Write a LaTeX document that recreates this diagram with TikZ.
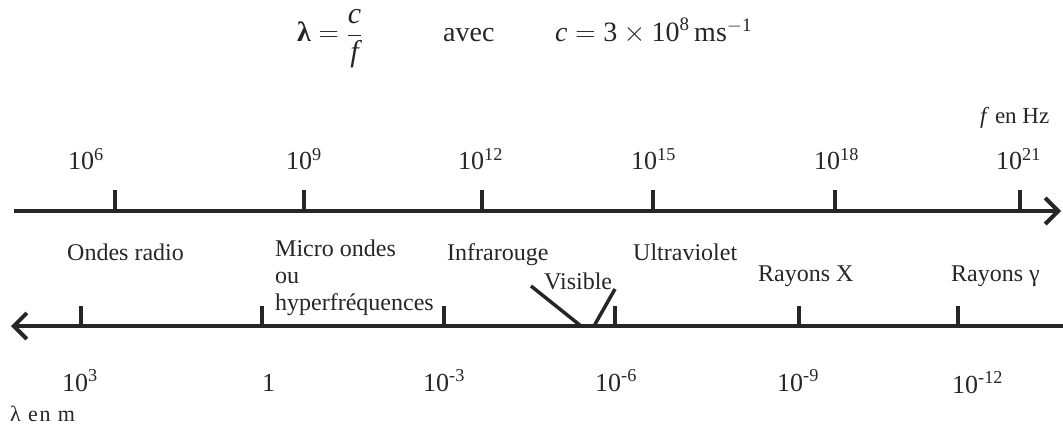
\documentclass[tikz,border=0pt]{standalone}
\usepackage{fix-cm}
\usepackage{fontspec}
\setmainfont{Liberation Serif}
\usetikzlibrary{arrows.meta}
\definecolor{ink}{HTML}{262626}
\begin{document}
\begin{tikzpicture}[x=1pt,y=-1pt,
  axis/.style={draw=ink,line width=4pt,-{Straight Barb[length=13pt,width=26pt,line width=4pt]}},
  tick/.style={draw=ink,line width=3.5pt},
  vis/.style={draw=ink,line width=3.5pt},
  num/.style={anchor=base west,inner sep=0pt,text=ink,font=\fontsize{26}{30}\selectfont},
  lab/.style={anchor=base west,inner sep=0pt,text=ink,font=\fontsize{24}{27}\selectfont},
  formula/.style={anchor=base west,inner sep=0pt,text=ink,font=\fontsize{28}{32}\selectfont},
  small/.style={anchor=base west,inner sep=0pt,text=ink,font=\fontsize{22}{26}\selectfont}]
\useasboundingbox (0,0) rectangle (1063,425);
% formula
\node[formula] (lam) at (297,42) {$\mbox{\bfseries λ} = \displaystyle\frac{\mbox{\fontsize{30}{34}\selectfont\itshape c}}{\mbox{\fontsize{30}{34}\selectfont\itshape f}}$};
\node[formula] (avec) at (443,42) {avec};
\node[formula] (cval) at (555,42) {$\mbox{\itshape c} = \mbox{3}\times\mbox{10}^{\mbox{\fontsize{19}{22}\selectfont 8}}\,\mbox{ms}^{-\mbox{\fontsize{19}{22}\selectfont 1}}$};
% upper axis
\coordinate (uS) at (14,211);
\coordinate (uE) at (1061,211);
\draw[axis] (uS) -- (uE);
\foreach \x/\n in {115/a,304/b,482/c,653/d,835/e,1020/f}{
  \coordinate (ut\n) at (\x,211);
  \coordinate (utt\n) at (\x,190);
  \draw[tick] (ut\n) -- (utt\n);
}
\node[lab,font=\fontsize{23}{27}\selectfont] (fhz) at (980,124) {\textit{f} en Hz};
\node[num] (f6) at (68,170) {10\textsuperscript{6}};
\node[num] (f9) at (286,170) {10\textsuperscript{9}};
\node[num] (f12) at (458,170) {10\textsuperscript{12}};
\node[num] (f15) at (631,170) {10\textsuperscript{15}};
\node[num] (f18) at (814,170) {10\textsuperscript{18}};
\node[num] (f21) at (996,170) {10\textsuperscript{21}};
% labels
\node[lab] (radio) at (67,260) {Ondes radio};
\node[lab,align=left] (micro) at (275,310) {Micro ondes\\ou\\hyperfréquences};
\node[lab] (ir) at (447,260) {Infrarouge};
\node[lab] (uv) at (633,260) {Ultraviolet};
\node[lab] (vis) at (544,289) {Visible};
\node[lab] (rx) at (758,281) {Rayons X};
\node[lab] (rg) at (951,281) {Rayons γ};
% lower axis
\coordinate (lS) at (1063,326);
\coordinate (lE) at (11,326);
\draw[axis] (lS) -- (lE);
\foreach \x/\n in {81/a,262/b,444/c,615/d,799/e,958/f}{
  \coordinate (lt\n) at (\x,326);
  \coordinate (ltt\n) at (\x,306);
  \draw[tick] (lt\n) -- (ltt\n);
}
\coordinate (v1a) at (531,286);
\coordinate (v1b) at (581,326);
\coordinate (v2a) at (615,289);
\coordinate (v2b) at (594,326);
\draw[vis] (v1a) -- (v1b);
\draw[vis] (v2a) -- (v2b);
\node[num] (l3) at (62,391) {10\textsuperscript{3}};
\node[num] (l0) at (262,391) {1};
\node[num] (lm3) at (423,391) {10\textsuperscript{-3}};
\node[num] (lm6) at (595,391) {10\textsuperscript{-6}};
\node[num] (lm9) at (777,391) {10\textsuperscript{-9}};
\node[num] (lm12) at (952,393) {10\textsuperscript{-12}};
\node[small,font=\fontsize{22}{26}\selectfont\addfontfeatures{LetterSpace=8}] (lem) at (10,421) {λ en m};
\end{tikzpicture}
\end{document}
